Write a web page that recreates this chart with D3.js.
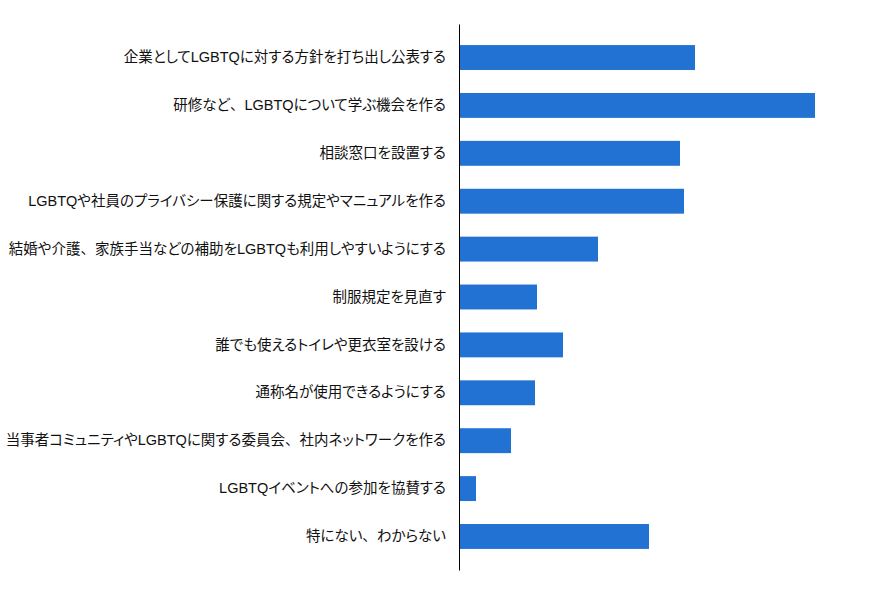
<!DOCTYPE html>
<html><head><meta charset="utf-8">
<script src="https://cdn.jsdelivr.net/npm/d3@7"></script>
<style>body{margin:0;background:#fff}
.tick text{font-feature-settings:"palt" 1;}
.tick text tspan.fw{font-feature-settings:normal;}
</style>
</head><body>
<svg id="c" width="871" height="594"></svg>
<script>
const categories = [
  "企業としてLGBTQに対する方針を打ち出し公表する",
  "研修など、LGBTQについて学ぶ機会を作る",
  "相談窓口を設置する",
  "LGBTQや社員のプライバシー保護に関する規定やマニュアルを作る",
  "結婚や介護、家族手当などの補助をLGBTQも利用しやすいようにする",
  "制服規定を見直す",
  "誰でも使えるトイレや更衣室を設ける",
  "通称名が使用できるようにする",
  "当事者コミュニティやLGBTQに関する委員会、社内ネットワークを作る",
  "LGBTQイベントへの参加を協賛する",
  "特にない、わからない"
];
const values = [23.5, 35.5, 22.0, 22.4, 13.8, 7.7, 10.3, 7.5, 5.1, 1.6, 18.9];

const svg = d3.select("#c");
const x = d3.scaleLinear().domain([0, 35.5]).range([460, 815]);
const y = d3.scaleBand().domain(categories).range([24, 570]).paddingInner(0.48).paddingOuter(0.44);

svg.append("g").selectAll("rect").data(values).join("rect")
  .attr("x", x(0)).attr("y", (d,i)=>y(categories[i]))
  .attr("width", d=>x(d)-x(0)).attr("height", y.bandwidth())
  .attr("fill", "#2272d3");

const ax = svg.append("g").attr("transform", "translate(459,0)")
  .call(d3.axisLeft(y).tickSize(0).tickPadding(13));
ax.select(".domain").attr("stroke", "#000").attr("stroke-width", 1);
ax.selectAll("text").attr("font-family", "'Liberation Sans','Noto Sans CJK JP',sans-serif")
  .attr("font-size", 14.5).attr("fill", "#111")
  .each(function(d){
    const t = d3.select(this);
    t.text(null);
    d.split(/(、)/).filter(s=>s.length).forEach(s=>{
      t.append("tspan").attr("class", s==="、"?"fw":null).text(s);
    });
  });
</script>
</body></html>
